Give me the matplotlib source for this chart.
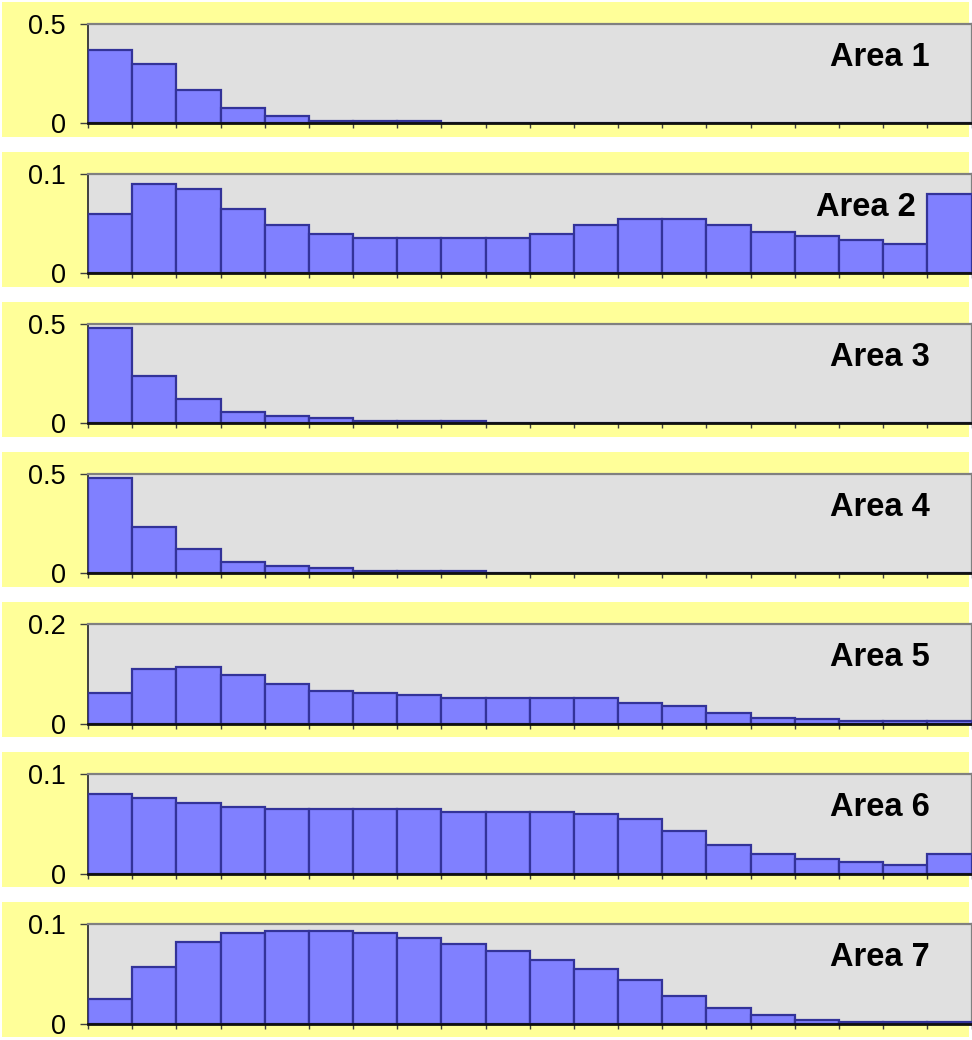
import numpy as np
import matplotlib
matplotlib.use("Agg")
import matplotlib.pyplot as plt
from matplotlib.patches import Rectangle

plt.rcParams['font.family'] = ['Liberation Sans', 'DejaVu Sans']

# bar values, 20 bins per area
area1 = [0.368, 0.300, 0.165, 0.077, 0.035, 0.011, 0.011, 0.011,
         0, 0, 0, 0, 0, 0, 0, 0, 0, 0, 0, 0]
area2 = [0.060, 0.090, 0.085, 0.065, 0.049, 0.040, 0.035, 0.035, 0.035, 0.035,
         0.040, 0.049, 0.055, 0.055, 0.049, 0.042, 0.037, 0.033, 0.029, 0.080]
area3 = [0.481, 0.236, 0.124, 0.057, 0.037, 0.025, 0.013, 0.013, 0.013,
         0, 0, 0, 0, 0, 0, 0, 0, 0, 0, 0]
area4 = [0.481, 0.234, 0.125, 0.059, 0.037, 0.027, 0.014, 0.014, 0.014,
         0, 0, 0, 0, 0, 0, 0, 0, 0, 0, 0]
area5 = [0.061, 0.110, 0.114, 0.098, 0.079, 0.065, 0.061, 0.057, 0.052, 0.052,
         0.052, 0.052, 0.042, 0.035, 0.021, 0.012, 0.009, 0.005, 0.005, 0.005]
area6 = [0.080, 0.076, 0.071, 0.067, 0.065, 0.065, 0.065, 0.065, 0.062, 0.062,
         0.062, 0.060, 0.055, 0.043, 0.029, 0.020, 0.015, 0.0115, 0.009, 0.020]
area7 = [0.0245, 0.057, 0.082, 0.091, 0.0926, 0.0926, 0.091, 0.086, 0.080, 0.073,
         0.064, 0.055, 0.044, 0.028, 0.0155, 0.009, 0.004, 0.002, 0.002, 0.002]

series = [area1, area2, area3, area4, area5, area6, area7]
names = ['Area 1', 'Area 2', 'Area 3', 'Area 4', 'Area 5', 'Area 6', 'Area 7']
ymax = [0.5, 0.1, 0.5, 0.5, 0.2, 0.1, 0.1]
ymax_labels = ['0.5', '0.1', '0.5', '0.5', '0.2', '0.1', '0.1']

W, H = 972, 1040
fig = plt.figure(figsize=(W / 100, H / 100), dpi=100)
fig.patch.set_facecolor('white')

pitch = 150.05
for i, vals in enumerate(series):
    top_y = 2 + pitch * i
    # yellow panel background, kept behind the axes
    fig.patches.append(Rectangle((2 / W, 1 - (top_y + 135) / H), 967 / W, 135 / H,
                                 transform=fig.transFigure, facecolor='#FFFF99',
                                 edgecolor='none', zorder=-1))
    plot_top = 23.7 + pitch * i
    plot_bot = 123.3 + pitch * i
    ax = fig.add_axes([88 / W, 1 - plot_bot / H, 883.5 / W, (plot_bot - plot_top) / H])
    ax.set_zorder(2)
    ax.set_facecolor('#E0E0E0')
    x = np.arange(len(vals))
    ax.bar(x, vals, width=1, align='edge', color='#8080FF',
           edgecolor='#333399', linewidth=1.6, zorder=3)
    ax.set_xlim(0, len(vals))
    ax.set_ylim(0, ymax[i])
    ax.set_yticks([0, ymax[i]])
    ax.set_yticklabels(['0', ymax_labels[i]], fontsize=19.5)
    ax.set_xticks(np.arange(len(vals) + 1))
    ax.set_xticklabels([])
    ax.tick_params(axis='y', direction='out', length=5.8, width=1, color='#404040', pad=10)
    ax.tick_params(axis='x', direction='out', length=3.6, width=1, color='#404040')
    for s in ['top', 'right']:
        ax.spines[s].set_color('#808080')
        ax.spines[s].set_linewidth(1.6)
    ax.spines['left'].set_color('#404040')
    ax.spines['left'].set_linewidth(1.4)
    ax.spines['bottom'].set_color('#101010')
    ax.spines['bottom'].set_linewidth(2)
    ax.spines['bottom'].set_zorder(4)
    tx = 0.88 if i == 1 else 0.896
    ax.text(tx, 0.66, names[i], transform=ax.transAxes, ha='center', va='center',
            fontsize=23.5, fontweight='bold', color='black', zorder=5)

fig.savefig('out.png', dpi=100)
